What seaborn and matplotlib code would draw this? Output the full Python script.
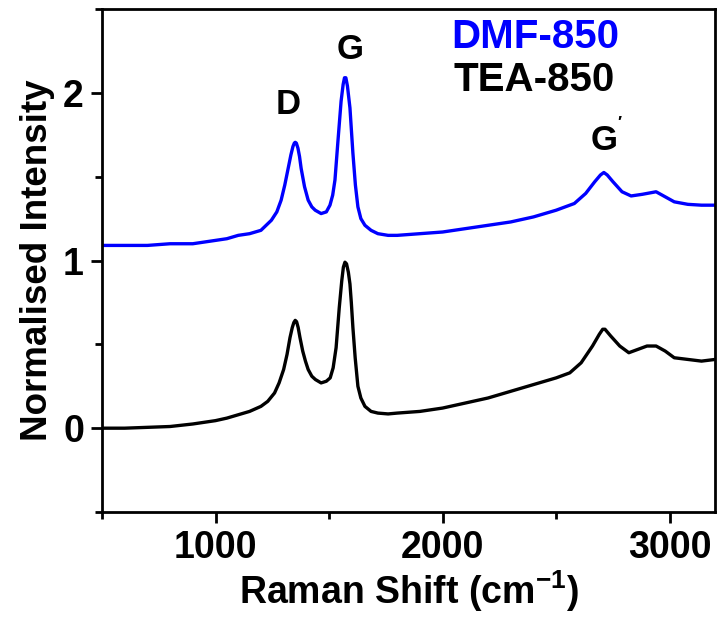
import matplotlib
matplotlib.use("Agg")
import matplotlib.pyplot as plt
import seaborn as sns
import pandas as pd
from matplotlib.ticker import MultipleLocator

# --- data ---
tea_x = [500, 600, 700, 800, 900, 1000, 1050, 1100, 1150, 1200, 1230, 1260, 1280, 1300, 1315,
         1328, 1338, 1345, 1351, 1357, 1364, 1372, 1384, 1396, 1408, 1424, 1440, 1465, 1488,
         1505, 1518, 1531, 1545, 1556, 1563, 1570, 1577, 1585, 1592, 1598, 1605, 1615, 1627,
         1640, 1658, 1685, 1715, 1760, 1800, 1900, 2000, 2100, 2200, 2300, 2400, 2500, 2560,
         2610, 2660, 2690, 2705, 2715, 2740, 2780, 2820, 2860, 2900, 2940, 2980, 3020, 3080,
         3140, 3200]
tea_y = [0.00, 0.00, 0.005, 0.01, 0.025, 0.045, 0.06, 0.08, 0.10, 0.13, 0.16, 0.21, 0.27, 0.35, 0.44,
         0.54, 0.60, 0.63, 0.643, 0.635, 0.60, 0.54, 0.46, 0.40, 0.35, 0.31, 0.29, 0.27, 0.28,
         0.30, 0.36, 0.48, 0.72, 0.88, 0.96, 0.99, 0.98, 0.93, 0.86, 0.75, 0.60, 0.42, 0.25,
         0.18, 0.13, 0.10, 0.09, 0.085, 0.09, 0.10, 0.12, 0.15, 0.18, 0.22, 0.26, 0.30, 0.33,
         0.39, 0.49, 0.56, 0.59, 0.59, 0.55, 0.49, 0.45, 0.47, 0.49, 0.49, 0.46, 0.42, 0.41,
         0.40, 0.41]

dmf_x = [500, 600, 700, 800, 900, 1000, 1050, 1100, 1150, 1200, 1246, 1270, 1289, 1305, 1320,
         1332, 1341, 1347, 1351, 1356, 1363, 1370, 1377, 1392, 1408, 1424, 1439, 1465, 1488,
         1504, 1516, 1526, 1539, 1553, 1562, 1568, 1574, 1581, 1592, 1605, 1616, 1627, 1640,
         1658, 1685, 1715, 1760, 1800, 1900, 2000, 2100, 2200, 2300, 2400, 2500, 2580, 2630,
         2670, 2695, 2710, 2725, 2750, 2790, 2830, 2880, 2940, 2980, 3020, 3080, 3140, 3200]
dmf_y = [1.09, 1.09, 1.09, 1.10, 1.10, 1.12, 1.13, 1.15, 1.16, 1.18, 1.24, 1.29, 1.36, 1.45, 1.55,
         1.63, 1.68, 1.70, 1.705, 1.70, 1.67, 1.62, 1.55, 1.44, 1.36, 1.32, 1.30, 1.28, 1.29,
         1.33, 1.39, 1.48, 1.71, 1.95, 2.05, 2.09, 2.09, 2.04, 1.91, 1.64, 1.45, 1.32, 1.25,
         1.21, 1.18, 1.16, 1.15, 1.15, 1.16, 1.17, 1.19, 1.21, 1.23, 1.26, 1.30, 1.34, 1.40,
         1.47, 1.51, 1.525, 1.51, 1.47, 1.41, 1.385, 1.395, 1.41, 1.38, 1.35, 1.335, 1.33, 1.33]

series_names = ["DMF-850", "TEA-850"]
series_colors = ["#0000ff", "#000000"]
peak_labels = ["D", "G", "G$^{'}$"]
peak_pos = [(1322, 1.875), (1594, 2.20), (2649, 1.655)]
peak_ha = ["center", "center", "left"]

sns.set_theme(style="ticks")
plt.rcParams["font.family"] = ["Liberation Sans", "DejaVu Sans"]
plt.rcParams["font.weight"] = "bold"
plt.rcParams["text.color"] = "black"
plt.rcParams["axes.labelcolor"] = "black"
plt.rcParams["xtick.color"] = "black"
plt.rcParams["ytick.color"] = "black"
plt.rcParams["mathtext.fontset"] = "custom"
plt.rcParams["mathtext.rm"] = "Liberation Sans:bold"
plt.rcParams["mathtext.bf"] = "Liberation Sans:bold"
plt.rcParams["mathtext.default"] = "bf"

df = pd.concat([
    pd.DataFrame({"x": dmf_x, "y": dmf_y, "sample": series_names[0]}),
    pd.DataFrame({"x": tea_x, "y": tea_y, "sample": series_names[1]}),
])

fig = plt.figure(figsize=(7.18, 6.21), dpi=100)
ax = fig.add_axes([0.142, 0.1755, 0.854, 0.810])
sns.lineplot(data=df, x="x", y="y", hue="sample", palette=dict(zip(series_names, series_colors)),
             linewidth=2.4, legend=False, ax=ax, sort=True, estimator=None)

ax.set_xlim(500, 3200)
ax.set_ylim(-0.5, 2.5)
ax.xaxis.set_major_locator(MultipleLocator(1000))
ax.xaxis.set_minor_locator(MultipleLocator(500))
ax.yaxis.set_major_locator(MultipleLocator(1))
ax.yaxis.set_minor_locator(MultipleLocator(0.5))
ax.tick_params(which="major", direction="out", length=8, width=2, labelsize=27, pad=5)
ax.tick_params(which="minor", direction="out", length=5, width=2)
for lbl in ax.get_xticklabels() + ax.get_yticklabels():
    lbl.set_fontweight("bold")
for s in ax.spines.values():
    s.set_linewidth(2)
    s.set_color("black")

ax.set_xlabel("Raman Shift (cm$^{-1}$)", fontsize=27, fontweight="bold", labelpad=2)
ax.set_ylabel("Normalised Intensity", fontsize=26.5, fontweight="bold", labelpad=6)

for t, (px, py), ha in zip(peak_labels, peak_pos, peak_ha):
    ax.text(px, py, t, fontsize=25, fontweight="bold", ha=ha, va="baseline")

ax.text(2408, 2.268, series_names[0], color=series_colors[0], fontsize=29, fontweight="bold",
        ha="center", va="baseline")
ax.text(2405, 2.012, series_names[1], color=series_colors[1], fontsize=29, fontweight="bold",
        ha="center", va="baseline")

fig.savefig("out.png", dpi=100)
